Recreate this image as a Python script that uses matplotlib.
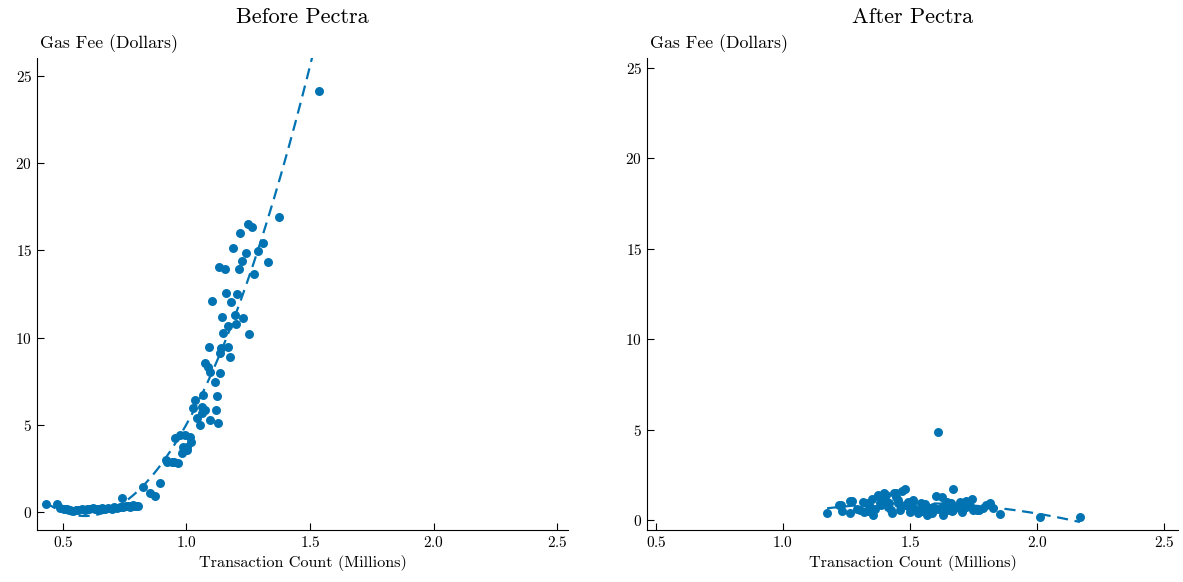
import numpy as np
import matplotlib
matplotlib.use("Agg")
import matplotlib.pyplot as plt

plt.rcParams['font.family'] = 'serif'
plt.rcParams['font.serif'] = ['cmr10']
plt.rcParams['mathtext.fontset'] = 'cm'
plt.rcParams['axes.formatter.use_mathtext'] = True

# ---- data: Before Pectra ----
before_tx = [0.431, 0.476, 0.488, 0.504, 0.516, 0.528, 0.540, 0.561, 0.577, 0.589,
             0.605, 0.621, 0.637, 0.649, 0.670, 0.682, 0.698, 0.718, 0.730, 0.738,
             0.742, 0.754, 0.763, 0.775, 0.783, 0.795, 0.803, 0.823, 0.852, 0.872,
             0.892, 0.920, 0.940, 0.965, 0.953, 0.993, 1.013, 0.985, 1.001, 0.981,
             1.041, 1.054, 1.094, 1.126, 1.033, 1.025, 1.062, 1.074, 1.118, 1.066,
             1.122, 1.114, 1.074, 1.086, 1.094, 1.134, 1.090, 1.138, 1.167, 1.175,
             1.134, 1.146, 1.252, 1.167, 1.199, 1.142, 1.195, 1.227, 1.102, 1.179,
             1.159, 1.203, 1.130, 1.154, 1.211, 1.223, 1.328, 1.272, 1.187, 1.288,
             1.239, 1.215, 1.247, 1.264, 1.308, 1.373, 1.538,
             0.510, 0.552, 0.596, 0.628, 0.660, 0.708, 0.770, 0.790,
             0.916, 0.950, 0.975, 1.004, 1.020, 1.064]
before_fee = [0.46, 0.46, 0.23, 0.17, 0.17, 0.11, 0.08, 0.11, 0.17, 0.11,
              0.17, 0.23, 0.17, 0.17, 0.17, 0.23, 0.17, 0.23, 0.29, 0.80,
              0.29, 0.34, 0.34, 0.34, 0.40, 0.34, 0.34, 1.43, 1.09, 0.92,
              1.66, 2.87, 2.87, 2.81, 4.24, 4.42, 4.30, 3.73, 3.73, 3.38,
              5.39, 4.99, 5.28, 5.10, 6.42, 5.96, 6.02, 5.85, 5.85, 6.71,
              6.65, 7.45, 8.54, 8.31, 8.03, 7.97, 9.46, 9.40, 9.46, 8.89,
              9.12, 10.26, 10.21, 10.67, 10.78, 11.18, 11.30, 11.12, 12.10, 12.04,
              12.56, 12.50, 14.05, 13.93, 13.93, 14.39, 14.33, 13.65, 15.14, 14.97,
              14.85, 16.00, 16.51, 16.34, 15.42, 16.92, 24.14,
              0.20, 0.14, 0.20, 0.20, 0.23, 0.26, 0.31, 0.37,
              2.98, 2.85, 4.42, 3.55, 4.00, 5.70]

# ---- data: After Pectra ----
after_tx = [1.174, 1.222, 1.264, 1.231, 1.264, 1.303, 1.316, 1.343, 1.356, 1.375,
            1.382, 1.406, 1.415, 1.428, 1.438, 1.454, 1.461, 1.480, 1.493, 1.500,
            1.513, 1.533, 1.559, 1.566, 1.592, 1.602, 1.611, 1.631, 1.644, 1.668,
            1.671, 1.697, 1.703, 1.722, 1.746, 1.762, 1.788, 1.815, 1.828, 1.854,
            2.012, 2.169, 1.227, 1.270, 1.327, 1.335, 1.374, 1.386, 1.399, 1.417,
            1.446, 1.452, 1.470, 1.482, 1.509, 1.536, 1.542, 1.575, 1.587, 1.625,
            1.630, 1.660, 1.665, 1.694, 1.720, 1.747, 1.773, 1.800,
            1.290, 1.320, 1.362, 1.395, 1.424, 1.466, 1.498, 1.520, 1.548, 1.580,
            1.612, 1.650, 1.685, 1.710, 1.735, 1.350, 1.410, 1.445, 1.560, 1.640]
after_fee = [0.40, 0.83, 1.07, 0.51, 0.37, 0.55, 1.01, 0.74, 0.28, 1.38,
             0.92, 1.38, 0.74, 0.37, 1.51, 1.11, 0.55, 1.70, 1.01, 0.46,
             1.11, 0.37, 0.74, 0.28, 0.74, 1.33, 4.89, 0.28, 1.01, 1.70,
             0.55, 1.01, 0.46, 0.74, 1.14, 0.55, 0.65, 0.92, 0.65, 0.33,
             0.18, 0.18, 0.85, 1.05, 0.92, 0.50, 1.33, 0.85, 1.51, 0.96,
             1.51, 0.92, 1.59, 0.85, 0.94, 0.51, 0.94, 0.65, 0.38, 1.25,
             0.78, 0.94, 0.50, 0.85, 1.03, 0.58, 0.58, 0.85,
             0.62, 0.45, 0.60, 1.20, 0.55, 0.80, 0.70, 0.60, 0.50, 0.45,
             0.60, 0.55, 0.70, 0.60, 0.75, 1.15, 1.00, 1.25, 0.90, 0.65]

color = '#0173B2'

fig = plt.figure(figsize=(11.83, 5.82), dpi=100)
ax1 = fig.add_axes([37/1183, 52/582, 531/1183, 472/582])
ax2 = fig.add_axes([647/1183, 52/582, 531/1183, 472/582])

panels = [
    (ax1, before_tx, before_fee, "Before Pectra", (0.395, 2.544), (-1.03, 26.03)),
    (ax2, after_tx, after_fee, "After Pectra", (0.465, 2.555), (-0.55, 25.55)),
]

for ax, xs, ys, title, xl, yl in panels:
    xs = np.asarray(xs); ys = np.asarray(ys)
    ax.scatter(xs, ys, s=42, color=color, zorder=3, linewidths=0)
    coef = np.polyfit(xs, ys, 2)
    xf = np.linspace(xs.min(), xs.max(), 200)
    ax.plot(xf, np.polyval(coef, xf), '--', color=color, lw=1.6,
            dashes=(5, 3), zorder=2)
    ax.set_xlim(*xl)
    ax.set_ylim(*yl)
    ax.set_xticks([0.5, 1.0, 1.5, 2.0, 2.5])
    ax.set_yticks([0, 5, 10, 15, 20, 25])
    ax.spines['top'].set_visible(False)
    ax.spines['right'].set_visible(False)
    ax.tick_params(direction='in', length=5, labelsize=11)
    ax.set_title(title, fontsize=16, pad=25)
    ax.set_xlabel("Transaction Count (Millions)", fontsize=11.7, labelpad=4)
    ax.text(0.005, 1.01, "Gas Fee (Dollars)", transform=ax.transAxes,
            fontsize=12.8, ha='left', va='bottom')

fig.savefig("out.png", dpi=100)
